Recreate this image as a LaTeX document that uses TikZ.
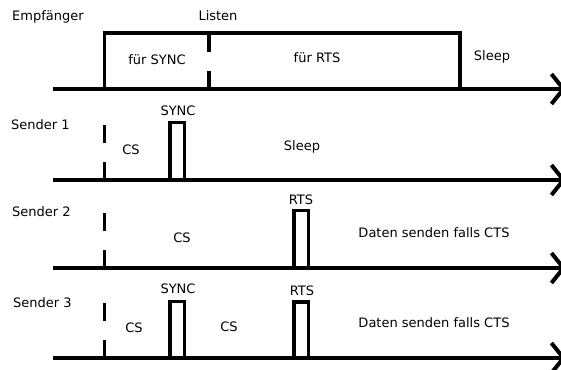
\documentclass[tikz,border=0pt]{standalone}
\usepackage{fontspec}
\setmainfont{DejaVu Sans}
\usetikzlibrary{arrows.meta}
\begin{document}
\begin{tikzpicture}[x=1pt,y=-1pt,
  axisline/.style={line width=4.5pt,-{Straight Barb[length=12pt,width=30pt,line width=4pt]}},
  boxline/.style={line width=3.5pt,line join=miter},
  dashline/.style={line width=3.5pt,dash pattern=on 18pt off 19pt},
  lbl/.style={font=\fontsize{13}{15}\selectfont,inner sep=0pt}]
\useasboundingbox (0,0) rectangle (561,369);
% axes
\coordinate (a0s) at (53,89);  \coordinate (a0e) at (566,89);
\coordinate (a1s) at (53,180); \coordinate (a1e) at (566,180);
\coordinate (a2s) at (53,268); \coordinate (a2e) at (566,268);
\coordinate (a3s) at (53,358); \coordinate (a3e) at (566,358);
\draw[axisline] (a0s) -- (a0e);
\draw[axisline] (a1s) -- (a1e);
\draw[axisline] (a2s) -- (a2e);
\draw[axisline] (a3s) -- (a3e);
% Empfaenger listen box
\coordinate (l0) at (104.5,89); \coordinate (l1) at (460,33); \coordinate (l2) at (460,89);
\draw[boxline] (l0) |- (l1) -- (l2);
\coordinate (d0a) at (209,89); \coordinate (d0b) at (209,33);
\draw[dashline] (d0a) -- (d0b);
% sender dashed markers
\coordinate (d1a) at (104.5,180); \coordinate (d1b) at (104.5,123);
\coordinate (d2a) at (104.5,268); \coordinate (d2b) at (104.5,212);
\coordinate (d3a) at (104.5,358); \coordinate (d3b) at (104.5,302);
\draw[dashline] (d1a) -- (d1b);
\draw[dashline] (d2a) -- (d2b);
\draw[dashline] (d3a) -- (d3b);
% pulses
\coordinate (p1a) at (170,180); \coordinate (p1b) at (184.5,122.5); \coordinate (p1c) at (184.5,180);
\draw[boxline] (p1a) |- (p1b) -- (p1c);
\coordinate (p2a) at (294,268); \coordinate (p2b) at (308.5,210.5); \coordinate (p2c) at (308.5,268);
\draw[boxline] (p2a) |- (p2b) -- (p2c);
\coordinate (p3a) at (170,358); \coordinate (p3b) at (184.5,301.5); \coordinate (p3c) at (184.5,358);
\draw[boxline] (p3a) |- (p3b) -- (p3c);
\coordinate (p4a) at (294,358); \coordinate (p4b) at (308.5,302); \coordinate (p4c) at (308.5,358);
\draw[boxline] (p4a) |- (p4b) -- (p4c);
% labels
\node[lbl,anchor=west] (emp) at (12,17) {Empfänger};
\node[lbl] (listen) at (218,16) {Listen};
\node[lbl] (fsync) at (157,60) {für SYNC};
\node[lbl] (frts) at (317,58) {für RTS};
\node[lbl] (sleep0) at (492,57) {Sleep};
\node[lbl,anchor=west] (s1) at (11,125) {Sender 1};
\node[lbl] (sync1) at (178,111) {SYNC};
\node[lbl] (cs1) at (131,150) {CS};
\node[lbl] (sleep1) at (302,147) {Sleep};
\node[lbl,anchor=west] (s2) at (12,212) {Sender 2};
\node[lbl] (cs2) at (182,238) {CS};
\node[lbl] (rts2) at (301,200) {RTS};
\node[lbl] (dat2) at (434,233) {Daten senden falls CTS};
\node[lbl,anchor=west] (s3) at (13,303) {Sender 3};
\node[lbl] (sync3) at (178,289) {SYNC};
\node[lbl] (cs3a) at (134,328) {CS};
\node[lbl] (cs3b) at (229,327) {CS};
\node[lbl] (rts3) at (302,291) {RTS};
\node[lbl] (dat3) at (434,323) {Daten senden falls CTS};
\end{tikzpicture}
\end{document}
